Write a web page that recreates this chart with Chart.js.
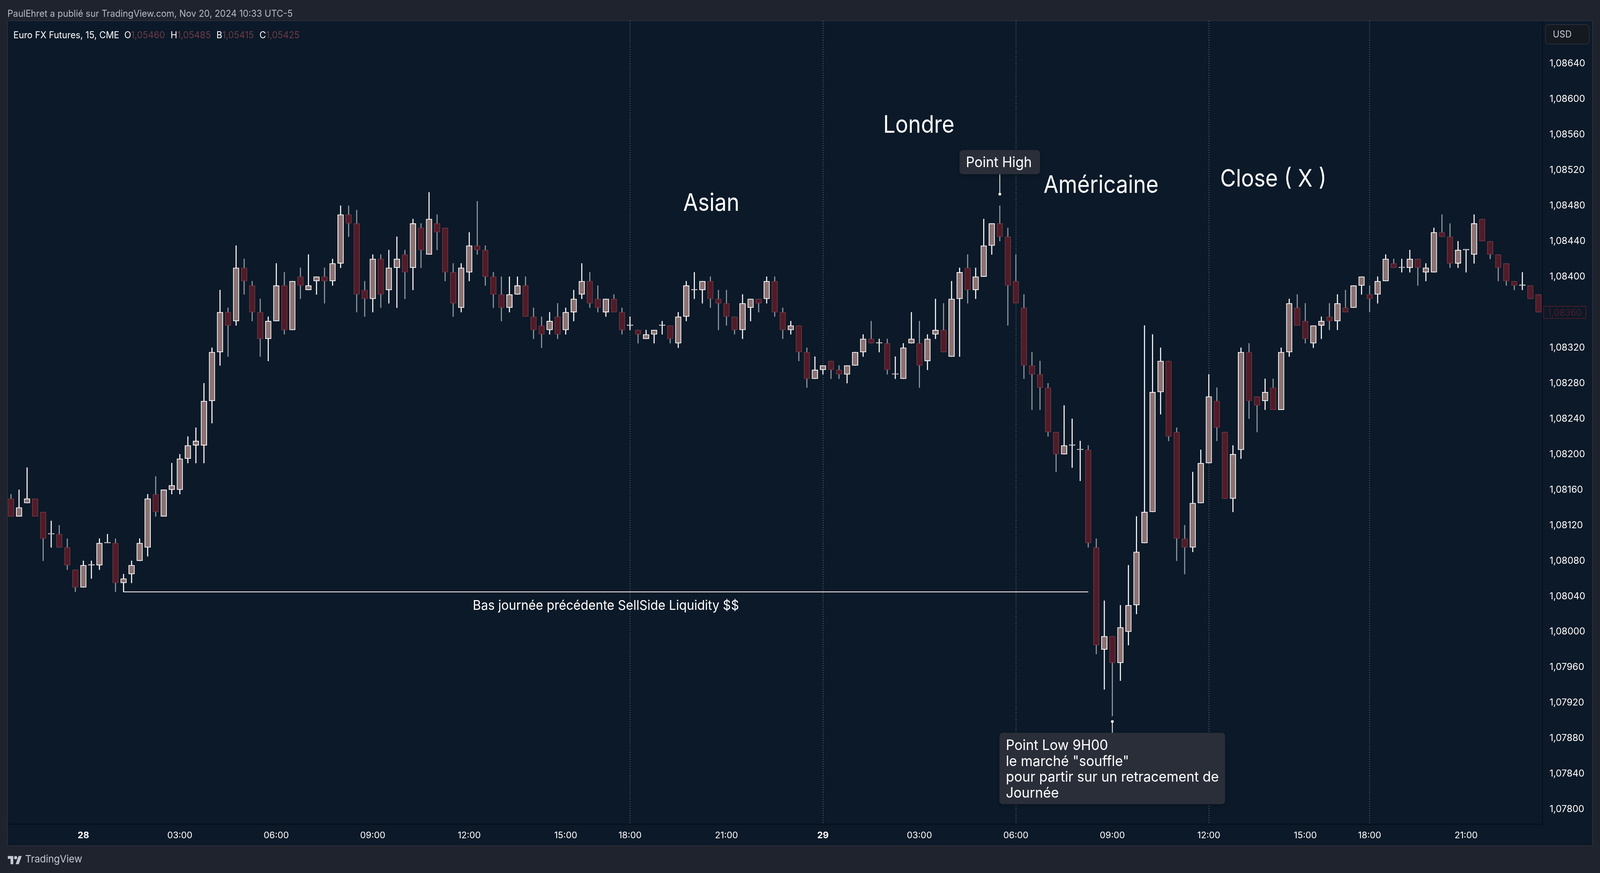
<!DOCTYPE html>
<html lang="fr">
<head>
<meta charset="utf-8">
<title>Euro FX Futures, 15, CME</title>
<script src="https://cdn.jsdelivr.net/npm/chart.js@4/dist/chart.umd.min.js"></script>
<style>
    html, body { margin: 0; padding: 0; width: 100%; height: 2236px; overflow: hidden; background: #1f232d; font-family: Inter, "Noto Sans", sans-serif; }
    #panel { position: absolute; top: 54px; height: 2111px; background: #0b1928; box-shadow: 0 0 0 2px #2a2e39; }
    #priceChart { display: block; }
    /* texts are laid out on the 4310 wide design, then fitted to the window */
    #over { position: absolute; left: 0; top: 0; width: 4310px; height: 2236px; transform-origin: 0 0; }
    .txt { position: absolute; white-space: nowrap; }
    #publisher { left: 20px; top: 20px; font-size: 24px; line-height: 30px; color: #b6bac6; }
    #legend { left: 36px; top: 75px; font-size: 24px; line-height: 30px; color: #fff; }
    #legend b { font-weight: 400; color: #6e3a47; margin-right: 15px; }
    #usd { left: 4162px; top: 62px; width: 120px; height: 52px; box-sizing: border-box; padding-left: 19px; line-height: 48px; font-size: 24px; color: #c5c8d3; background: #14181f; border: 2px solid #2a2e39; border-radius: 10px; }
    #logo { position: absolute; left: 21px; top: 2188px; width: 38px; height: 30px; fill: #c5c8d3; }
    #brand { left: 68px; top: 2183px; font-size: 26px; line-height: 34px; color: #c5c8d3; }
    .session { font-size: 62px; line-height: 70px; color: #fff; transform: translate(-50%, -50%) scaleX(.935); }
    .note { font-size: 33.8px; line-height: 44px; color: #fff; transform: translate(-50%, -50%); }
    .box { font-size: 36.5px; line-height: 40.4px; color: #fff; background: #2a2e39; border-radius: 9px; padding: 11px 17px 10px; transform: translate(-50%, -50%); box-shadow: 0 3px 8px rgba(0,0,0,.25); }
    .boxHigh { padding: 11px 22px 10px 17px; }
    #lastTag { left: 4157px; width: 116px; height: 33px; box-sizing: border-box; border: 2px solid #4f1c28; text-align: center; font-size: 24px; line-height: 29px; color: #4f1c28; transform: translateY(-50%); }
</style>
</head>
<body>
<div id="panel"><canvas id="priceChart"></canvas></div>
<div id="over">
    <div class="txt" id="publisher">PaulEhret a publié sur TradingView.com, Nov 20, 2024 10:33 UTC-5</div>
    <div class="txt" id="legend">Euro FX Futures, 15, CME&nbsp; O<b>1,05460</b>H<b>1,05485</b>B<b>1,05415</b>C<b>1,05425</b></div>
    <div class="txt" id="usd">USD</div>
    <svg id="logo" viewBox="0 0 36 28"><path d="M14 24H7V11H0V4h14v20zM28 24h-8l7.5-20h8L28 24z"/><circle cx="20" cy="8" r="4"/></svg>
    <div class="txt" id="brand">TradingView</div>
</div>
<script>
// OHLC, one entry per 15 minute candle
const opens = [
    1.08150, 1.08130, 1.08145, 1.08150, 1.08135, 1.08110, 1.08110, 1.08095, 1.08070, 1.08050,
    1.08075, 1.08075, 1.08100, 1.08100, 1.08055, 1.08065, 1.08080, 1.08095, 1.08155, 1.08130,
    1.08160, 1.08160, 1.08195, 1.08210, 1.08210, 1.08260, 1.08315, 1.08360, 1.08350, 1.08410,
    1.08390, 1.08360, 1.08330, 1.08350, 1.08390, 1.08340, 1.08400, 1.08385, 1.08395, 1.08400,
    1.08395, 1.08415, 1.08470, 1.08460, 1.08385, 1.08375, 1.08420, 1.08385, 1.08410, 1.08425,
    1.08410, 1.08455, 1.08425, 1.08460, 1.08455, 1.08405, 1.08365, 1.08405, 1.08435, 1.08430,
    1.08400, 1.08380, 1.08365, 1.08380, 1.08390, 1.08355, 1.08345, 1.08340, 1.08355, 1.08340,
    1.08360, 1.08380, 1.08395, 1.08375, 1.08360, 1.08375, 1.08360, 1.08345, 1.08340, 1.08330,
    1.08335, 1.08345, 1.08345, 1.08325, 1.08355, 1.08385, 1.08385, 1.08395, 1.08375, 1.08370,
    1.08355, 1.08340, 1.08365, 1.08375, 1.08375, 1.08395, 1.08360, 1.08340, 1.08345, 1.08315,
    1.08285, 1.08295, 1.08305, 1.08295, 1.08290, 1.08300, 1.08315, 1.08330, 1.08325, 1.08325,
    1.08290, 1.08285, 1.08325, 1.08325, 1.08305, 1.08335, 1.08340, 1.08310, 1.08375, 1.08410,
    1.08385, 1.08400, 1.08435, 1.08460, 1.08445, 1.08395, 1.08365, 1.08300, 1.08290, 1.08275,
    1.08225, 1.08200, 1.08210, 1.08205, 1.08205, 1.08095, 1.07980, 1.07995, 1.07965, 1.08000,
    1.08030, 1.08100, 1.08135, 1.08270, 1.08305, 1.08225, 1.08105, 1.08095, 1.08145, 1.08190,
    1.08260, 1.08225, 1.08150, 1.08205, 1.08315, 1.08265, 1.08260, 1.08275, 1.08250, 1.08315,
    1.08365, 1.08350, 1.08325, 1.08345, 1.08355, 1.08350, 1.08365, 1.08365, 1.08390, 1.08380,
    1.08380, 1.08395, 1.08415, 1.08410, 1.08410, 1.08420, 1.08405, 1.08405, 1.08450, 1.08445,
    1.08415, 1.08430, 1.08425, 1.08465, 1.08440, 1.08425, 1.08415, 1.08395, 1.08390, 1.08390, 1.08380
];
const highs = [
    1.08155, 1.08160, 1.08185, 1.08150, 1.08135, 1.08125, 1.08120, 1.08105, 1.08070, 1.08080,
    1.08080, 1.08105, 1.08110, 1.08105, 1.08065, 1.08080, 1.08105, 1.08155, 1.08175, 1.08160,
    1.08190, 1.08200, 1.08220, 1.08230, 1.08280, 1.08320, 1.08385, 1.08365, 1.08435, 1.08420,
    1.08395, 1.08375, 1.08355, 1.08415, 1.08405, 1.08395, 1.08410, 1.08425, 1.08400, 1.08410,
    1.08420, 1.08480, 1.08480, 1.08475, 1.08395, 1.08425, 1.08425, 1.08430, 1.08445, 1.08430,
    1.08465, 1.08460, 1.08495, 1.08470, 1.08455, 1.08415, 1.08415, 1.08450, 1.08485, 1.08435,
    1.08405, 1.08400, 1.08400, 1.08400, 1.08400, 1.08365, 1.08355, 1.08360, 1.08370, 1.08365,
    1.08385, 1.08415, 1.08405, 1.08390, 1.08375, 1.08380, 1.08365, 1.08355, 1.08340, 1.08340,
    1.08340, 1.08350, 1.08345, 1.08360, 1.08395, 1.08405, 1.08395, 1.08400, 1.08385, 1.08385,
    1.08355, 1.08380, 1.08375, 1.08375, 1.08400, 1.08400, 1.08365, 1.08350, 1.08345, 1.08320,
    1.08310, 1.08300, 1.08305, 1.08300, 1.08300, 1.08315, 1.08335, 1.08350, 1.08330, 1.08330,
    1.08310, 1.08325, 1.08360, 1.08350, 1.08335, 1.08375, 1.08370, 1.08395, 1.08410, 1.08425,
    1.08410, 1.08465, 1.08460, 1.08480, 1.08455, 1.08425, 1.08380, 1.08315, 1.08305, 1.08280,
    1.08225, 1.08255, 1.08240, 1.08215, 1.08210, 1.08105, 1.08035, 1.07995, 1.08030, 1.08075,
    1.08130, 1.08345, 1.08335, 1.08320, 1.08305, 1.08230, 1.08120, 1.08180, 1.08205, 1.08290,
    1.08275, 1.08225, 1.08210, 1.08320, 1.08325, 1.08265, 1.08285, 1.08285, 1.08320, 1.08375,
    1.08380, 1.08370, 1.08345, 1.08355, 1.08370, 1.08380, 1.08385, 1.08390, 1.08400, 1.08390,
    1.08400, 1.08425, 1.08420, 1.08420, 1.08430, 1.08420, 1.08415, 1.08455, 1.08470, 1.08460,
    1.08440, 1.08430, 1.08470, 1.08465, 1.08440, 1.08425, 1.08415, 1.08395, 1.08405, 1.08390, 1.08380
];
const lows = [
    1.08130, 1.08130, 1.08145, 1.08130, 1.08080, 1.08095, 1.08095, 1.08070, 1.08045, 1.08050,
    1.08060, 1.08070, 1.08100, 1.08045, 1.08045, 1.08055, 1.08080, 1.08085, 1.08130, 1.08130,
    1.08155, 1.08155, 1.08190, 1.08190, 1.08190, 1.08235, 1.08300, 1.08310, 1.08345, 1.08380,
    1.08350, 1.08310, 1.08305, 1.08350, 1.08335, 1.08340, 1.08375, 1.08385, 1.08380, 1.08370,
    1.08390, 1.08410, 1.08445, 1.08360, 1.08355, 1.08360, 1.08365, 1.08370, 1.08365, 1.08375,
    1.08385, 1.08410, 1.08425, 1.08430, 1.08395, 1.08355, 1.08360, 1.08395, 1.08425, 1.08390,
    1.08365, 1.08350, 1.08360, 1.08380, 1.08355, 1.08330, 1.08320, 1.08335, 1.08330, 1.08335,
    1.08350, 1.08375, 1.08365, 1.08360, 1.08355, 1.08360, 1.08335, 1.08340, 1.08325, 1.08330,
    1.08325, 1.08335, 1.08325, 1.08320, 1.08350, 1.08375, 1.08370, 1.08365, 1.08340, 1.08345,
    1.08335, 1.08330, 1.08350, 1.08360, 1.08370, 1.08355, 1.08330, 1.08335, 1.08305, 1.08275,
    1.08285, 1.08290, 1.08285, 1.08285, 1.08280, 1.08300, 1.08310, 1.08325, 1.08315, 1.08290,
    1.08285, 1.08285, 1.08325, 1.08275, 1.08295, 1.08330, 1.08315, 1.08310, 1.08310, 1.08370,
    1.08375, 1.08400, 1.08425, 1.08440, 1.08345, 1.08370, 1.08285, 1.08250, 1.08250, 1.08220,
    1.08180, 1.08200, 1.08185, 1.08170, 1.08095, 1.07975, 1.07935, 1.07905, 1.07945, 1.07985,
    1.08020, 1.08100, 1.08135, 1.08245, 1.08215, 1.08080, 1.08065, 1.08090, 1.08145, 1.08190,
    1.08215, 1.08150, 1.08135, 1.08195, 1.08240, 1.08225, 1.08250, 1.08250, 1.08250, 1.08310,
    1.08345, 1.08325, 1.08320, 1.08330, 1.08340, 1.08340, 1.08360, 1.08365, 1.08380, 1.08360,
    1.08370, 1.08395, 1.08410, 1.08405, 1.08405, 1.08390, 1.08395, 1.08405, 1.08445, 1.08410,
    1.08410, 1.08405, 1.08415, 1.08440, 1.08420, 1.08395, 1.08390, 1.08385, 1.08385, 1.08375, 1.08360
];
const closes = [
    1.08130, 1.08140, 1.08150, 1.08130, 1.08105, 1.08110, 1.08095, 1.08075, 1.08050, 1.08075,
    1.08075, 1.08100, 1.08100, 1.08055, 1.08060, 1.08075, 1.08100, 1.08150, 1.08135, 1.08160,
    1.08165, 1.08195, 1.08210, 1.08215, 1.08260, 1.08315, 1.08360, 1.08345, 1.08410, 1.08395,
    1.08360, 1.08330, 1.08350, 1.08390, 1.08340, 1.08395, 1.08390, 1.08390, 1.08400, 1.08395,
    1.08415, 1.08470, 1.08460, 1.08380, 1.08375, 1.08420, 1.08380, 1.08410, 1.08420, 1.08405,
    1.08460, 1.08430, 1.08465, 1.08450, 1.08405, 1.08370, 1.08410, 1.08435, 1.08430, 1.08400,
    1.08380, 1.08365, 1.08380, 1.08390, 1.08355, 1.08340, 1.08335, 1.08350, 1.08335, 1.08360,
    1.08375, 1.08395, 1.08370, 1.08365, 1.08375, 1.08360, 1.08340, 1.08345, 1.08335, 1.08335,
    1.08340, 1.08345, 1.08330, 1.08355, 1.08390, 1.08385, 1.08395, 1.08375, 1.08370, 1.08355,
    1.08340, 1.08370, 1.08375, 1.08370, 1.08395, 1.08360, 1.08340, 1.08345, 1.08315, 1.08285,
    1.08295, 1.08300, 1.08295, 1.08290, 1.08300, 1.08315, 1.08330, 1.08325, 1.08325, 1.08295,
    1.08290, 1.08320, 1.08330, 1.08300, 1.08330, 1.08340, 1.08315, 1.08375, 1.08405, 1.08385,
    1.08400, 1.08435, 1.08460, 1.08445, 1.08390, 1.08370, 1.08300, 1.08290, 1.08275, 1.08225,
    1.08200, 1.08210, 1.08210, 1.08205, 1.08100, 1.07985, 1.07995, 1.07965, 1.08005, 1.08030,
    1.08090, 1.08135, 1.08270, 1.08305, 1.08220, 1.08105, 1.08095, 1.08145, 1.08190, 1.08265,
    1.08230, 1.08150, 1.08200, 1.08315, 1.08260, 1.08255, 1.08270, 1.08250, 1.08315, 1.08370,
    1.08345, 1.08330, 1.08345, 1.08350, 1.08350, 1.08370, 1.08360, 1.08390, 1.08400, 1.08375,
    1.08395, 1.08420, 1.08410, 1.08410, 1.08420, 1.08410, 1.08410, 1.08450, 1.08445, 1.08415,
    1.08430, 1.08430, 1.08460, 1.08440, 1.08425, 1.08410, 1.08395, 1.08390, 1.08390, 1.08375, 1.08360
];

// 1,08360 is left out: the last price tag sits on that step
const priceTicks = [
    1.07800, 1.07840, 1.07880, 1.07920, 1.07960, 1.08000, 1.08040, 1.08080, 1.08120, 1.08160, 1.08200,
    1.08240, 1.08280, 1.08320, 1.08400, 1.08440, 1.08480, 1.08520, 1.08560, 1.08600, 1.08640
];
// hidden hour on the session break explains the short step at 18:00
const timeTickIndex = [9, 21, 33, 45, 57, 69, 77, 89, 101, 113, 125, 137, 149, 161, 169, 181];
const timeTickLabels = ['28', '03:00', '06:00', '09:00', '12:00', '15:00', '18:00', '21:00', '29', '03:00', '06:00', '09:00', '12:00', '15:00', '18:00', '21:00'];
const sessionLines = [77, 101, 125, 149, 169];
const dayTicks = [9, 101];

const prevDayLow = 1.08045;
const prevDayFrom = 14;
const prevDayTo = 134;
const lastPrice = 1.08360;

// Colours
const upBody = '#8c7272', upEdge = '#ffffff';
const downBody = '#4f1c28', downEdge = '#6e3340', downWick = '#979ca5';

const candleIndex = opens.map((_, i) => i);
const isDown = i => closes[i] < opens[i];
const fmtPrice = v => v.toFixed(5).replace('.', ',');
const noPadding = scale => { scale.paddingLeft = scale.paddingRight = scale.paddingTop = scale.paddingBottom = 0; };

// The browser may hand out a narrower window than the 4310 design: fit the width to it
const fitX = window.innerWidth / 4310;
const panelBox = document.getElementById('panel');
const overlay = document.getElementById('over');
overlay.style.transform = 'scaleX(' + fitX + ')';
panelBox.style.left = (21 * fitX) + 'px';
panelBox.style.width = Math.round(4268 * fitX) + 'px';
const canvas = document.getElementById('priceChart');
canvas.width = Math.round(4268 * fitX);
canvas.height = 2111;

const ctx = canvas.getContext('2d');
const priceChart = new Chart(ctx, {
    type: 'bar',
    data: {
        datasets: [
            {
                label: 'Corps',
                order: 1,
                grouped: false,
                barThickness: 16 * fitX,
                minBarLength: 2,
                borderWidth: 2,
                borderSkipped: false,
                data: candleIndex.map(i => ({ x: i, y: [Math.min(opens[i], closes[i]), Math.max(opens[i], closes[i])] })),
                backgroundColor: candleIndex.map(i => isDown(i) ? downBody : upBody),
                borderColor: candleIndex.map(i => isDown(i) ? downEdge : upEdge)
            },
            {
                label: 'Mèches',
                order: 2,
                grouped: false,
                barThickness: 2,
                borderWidth: 0,
                data: candleIndex.map(i => ({ x: i, y: [lows[i], highs[i]] })),
                backgroundColor: candleIndex.map(i => isDown(i) ? downWick : upEdge)
            },
            {
                type: 'line',
                label: 'Bas journée précédente',
                order: 0,
                data: [{ x: prevDayFrom, y: prevDayLow }, { x: prevDayTo, y: prevDayLow }],
                borderColor: '#ffffff',
                borderWidth: 2,
                pointRadius: 0
            },
            {
                type: 'line',
                label: 'Point High',
                order: 0,
                data: [{ x: 123, y: 1.08529 }, { x: 123, y: 1.08493 }],
                borderColor: '#ffffff',
                backgroundColor: '#ffffff',
                borderWidth: 2,
                pointRadius: [0, 3.5],
                pointBorderWidth: 0
            },
            {
                type: 'line',
                label: 'Point Low',
                order: 0,
                data: [{ x: 137, y: 1.07846 }, { x: 137, y: 1.07899 }],
                borderColor: '#ffffff',
                backgroundColor: '#ffffff',
                borderWidth: 2,
                pointRadius: [0, 3.5],
                pointBorderWidth: 0
            }
        ]
    },
    options: {
        responsive: false,
        animation: false,
        devicePixelRatio: 1,
        layout: { padding: 0, autoPadding: false },
        plugins: { legend: { display: false }, tooltip: { enabled: false } },
        scales: {
            x: {
                type: 'linear',
                offset: false,
                min: -0.397,
                max: 190.5,
                afterBuildTicks(scale) { scale.ticks = timeTickIndex.map(value => ({ value })); },
                afterFit(scale) { scale.height = 54; noPadding(scale); },
                grid: {
                    offset: false,
                    drawTicks: false,
                    lineWidth: c => sessionLines.includes(c.tick && c.tick.value) ? 2 : 0,
                    color: '#5d6675'
                },
                border: { display: true, color: '#060e18', width: 2, dash: [2, 4] },
                ticks: {
                    autoSkip: false,
                    maxRotation: 0,
                    padding: 15,
                    color: '#ffffff',
                    font: c => ({ family: 'Inter', size: 23, weight: dayTicks.includes(c.tick && c.tick.value) ? 'bold' : 'normal' }),
                    callback: value => timeTickLabels[timeTickIndex.indexOf(value)]
                }
            },
            y: {
                position: 'right',
                min: 1.077833,
                max: 1.086879,
                afterBuildTicks(scale) { scale.ticks = priceTicks.map(value => ({ value })); },
                afterFit(scale) { scale.width = 134 * fitX; noPadding(scale); },
                grid: { display: false },
                border: { display: true, color: '#060e18', width: 2 },
                ticks: {
                    padding: 10,
                    crossAlign: 'near',
                    color: '#ffffff',
                    font: { family: 'Inter', size: 24 },
                    callback: value => fmtPrice(value)
                }
            }
        }
    }
});

// Text notes, pinned on the chart through its scales
const notes = [
    { text: 'Asian', idx: 87.1, price: 1.08484, cls: 'session' },
    { text: 'Londre', idx: 112.9, price: 1.08572, cls: 'session' },
    { text: 'Américaine', idx: 135.6, price: 1.08504, cls: 'session' },
    { text: 'Close ( X )', idx: 157, price: 1.08511, cls: 'session' },
    { text: 'Bas journée précédente SellSide Liquidity $$', idx: 74, price: 1.0803, cls: 'note' },
    { text: 'Point High', idx: 123, price: 1.08529, cls: 'box boxHigh' },
    { text: 'Point Low 9H00<br>le marché "souffle"<br>pour partir sur un retracement de<br>Journée', idx: 137, price: 1.07846, cls: 'box' }
];

notes.forEach(n => {
    const el = document.createElement('div');
    el.className = 'txt ' + n.cls;
    el.innerHTML = n.text;
    el.style.left = ((panelBox.offsetLeft + priceChart.scales.x.getPixelForValue(n.idx)) / fitX) + 'px';
    el.style.top = (panelBox.offsetTop + priceChart.scales.y.getPixelForValue(n.price)) + 'px';
    overlay.appendChild(el);
});

// Last price tag on the axis
const tag = document.createElement('div');
tag.className = 'txt';
tag.id = 'lastTag';
tag.textContent = fmtPrice(lastPrice);
tag.style.top = (panelBox.offsetTop + priceChart.scales.y.getPixelForValue(lastPrice)) + 'px';
overlay.appendChild(tag);
</script>
</body>
</html>
